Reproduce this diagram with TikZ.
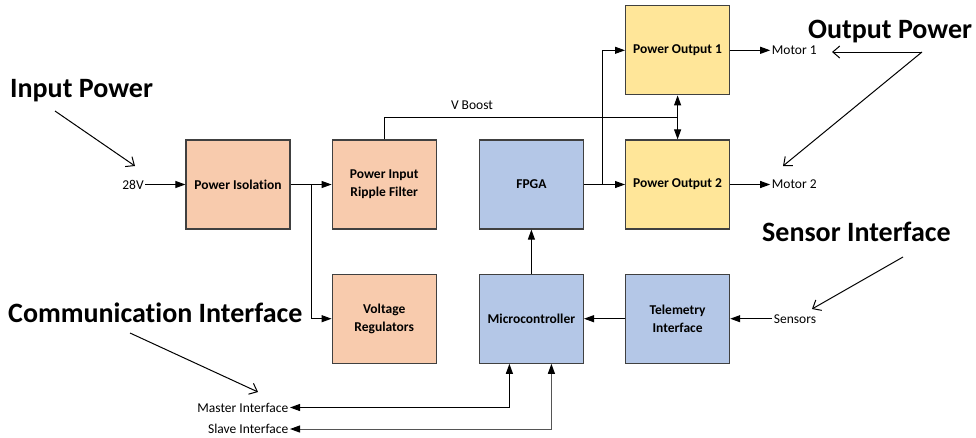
\documentclass[tikz,border=0pt]{standalone}
\usepackage{fontspec}
\setmainfont{Carlito}[Ligatures=NoCommon]
\usetikzlibrary{positioning,calc,arrows.meta}
\definecolor{peach}{HTML}{F8CBAD}
\definecolor{steel}{HTML}{B4C7E7}
\definecolor{sand}{HTML}{FFE699}
\definecolor{edge}{HTML}{404040}
\definecolor{wire}{HTML}{555555}

\tikzset{
  block/.style={draw=edge,line width=1.2pt,minimum width=104pt,minimum height=89pt,
    align=center,inner sep=2pt,font=\fontsize{13.5}{18}\selectfont\bfseries},
  port/.style={inner sep=1.5pt,font=\fontsize{13.5}{16}\selectfont},
  title/.style={inner sep=0pt,font=\fontsize{28}{32}\selectfont\bfseries},
  sig/.style={line width=1pt,-{Triangle[length=10pt,width=7pt]}},
  bisig/.style={line width=1pt,{Triangle[length=10pt,width=7pt,black]}-{Triangle[length=10pt,width=7pt,black]}},
  note/.style={line width=1pt,-{Straight Barb[length=7pt,width=12pt]}}
}

\begin{document}
\begin{tikzpicture}[x=1pt,y=-1pt]
\useasboundingbox (0,0) rectangle (976,437);
% NODE 1: power path
\node[block,fill=peach] (iso) at (238,184.5) {Power Isolation};
\node[block,fill=peach,right=41pt of iso] (filt) {Power Input\\Ripple Filter};
\node[block,fill=peach,below=44pt of filt] (vreg) {Voltage\\Regulators};
% NODE 2: logic
\node[block,fill=steel,right=42pt of filt] (fpga) {FPGA};
\node[block,fill=steel,below=44pt of fpga] (mcu) {Microcontroller};
\node[block,fill=steel,right=41pt of mcu] (tlm) {Telemetry\\Interface};
% NODE 3: output stages
\node[block,fill=sand,right=41pt of fpga] (po2) {Power Output 2};
\node[block,fill=sand,above=44pt of po2] (po1) {Power Output 1};

% ports
\node[port,left=40pt of iso] (v28) {28V};
\node[port,right=40pt of po1] (m1) {Motor 1};
\node[port,right=40pt of po2] (m2) {Motor 2};
\node[port,right=42pt of tlm] (sens) {Sensors};
\node[port,anchor=east] (mst) at (290,407.5) {Master Interface};
\node[port,anchor=east] (slv) at (290,429) {Slave Interface};
\node[port] (vbl) at (472,105) {V Boost};

% taps
\coordinate (isotap) at ($(iso.east)!0.5!(filt.west)$);
\coordinate (fpgatap) at ($(fpga.east)!0.45!(po2.west)$);
\coordinate (boost) at ($(po1.south)!0.5!(po2.north)$);
\coordinate (mstpin) at ($(mcu.south)+(-22,0)$);
\coordinate (slvpin) at ($(mcu.south)+(20,0)$);

\draw[sig] (v28) -- (iso);
\draw[sig] (iso) -- (filt);
\draw[sig] (isotap) |- (vreg);
\draw[line width=1pt] (filt.north) |- (boost);
\draw[sig] (boost) -- (po1);
\draw[sig] (boost) -- (po2);
\draw[sig] (fpga) -- (po2);
\draw[sig] (fpgatap) |- (po1);
\draw[sig] (po1) -- (m1);
\draw[sig] (po2) -- (m2);
\draw[sig] (mcu) -- (fpga);
\draw[sig] (tlm) -- (mcu);
\draw[sig] (sens) -- (tlm);
\draw[bisig] (mst) -| (mstpin);
\draw[bisig,draw=wire] (slv) -| (slvpin);

% titles
\node[title,anchor=base west] (tin) at (10,97) {Input Power};
\node[title,anchor=base west] (tout) at (808,38) {Output Power};
\node[title,anchor=base west] (tsen) at (762,241) {Sensor Interface};
\node[title,anchor=base west] (tcom) at (8,322) {Communication Interface};
\coordinate (tinA) at (55,111);
\coordinate (toutA) at (922,52);
\coordinate (tsenA) at (903,257);
\coordinate (tcomA) at (130,333);
\draw[note] (tinA) -- (135,166);
\draw[note] (toutA) -- (832,52);
\draw[note] (toutA) -- (783,166);
\draw[note] (tsenA) -- (812,309);
\draw[note] (tcomA) -- (258,392);
\end{tikzpicture}
\end{document}
